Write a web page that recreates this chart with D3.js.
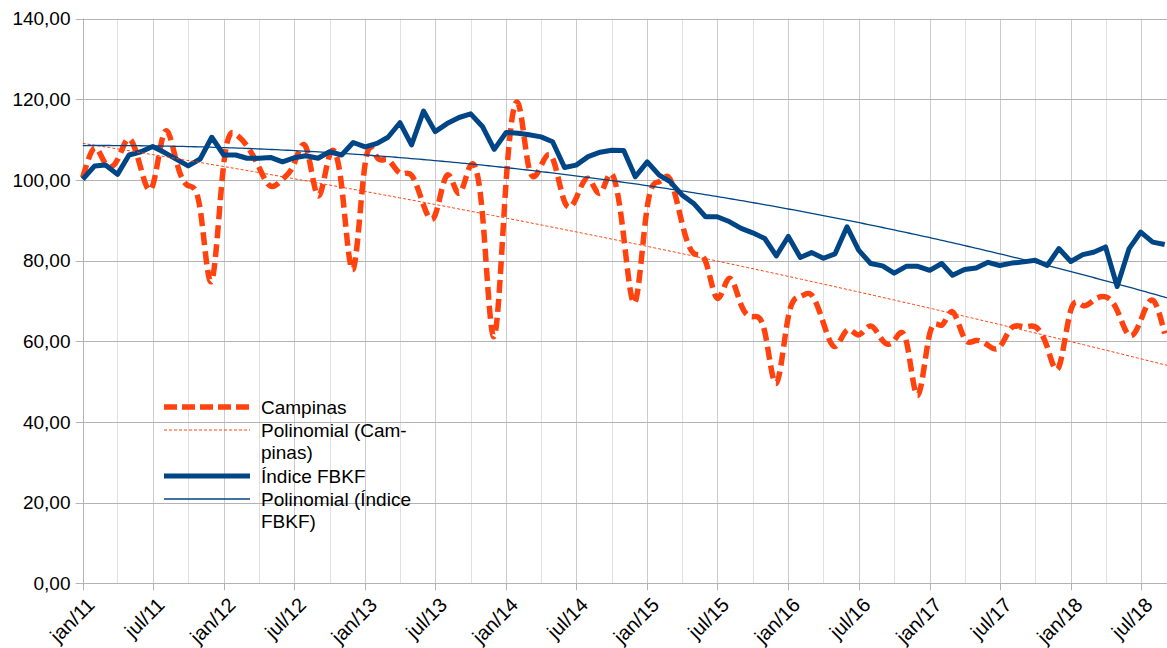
<!DOCTYPE html>
<html>
<head>
<meta charset="utf-8">
<script src="https://cdn.jsdelivr.net/npm/d3@7"></script>
<style>
  body { margin: 0; background: #fff; }
  svg text { font-family: "Liberation Sans", Arial, sans-serif; font-size: 19px; fill: #000; }
  svg text.x-label { font-size: 20px; }
</style>
</head>
<body>
<div id="chart"></div>
<script>
// monthly values, jan/11 .. sep/18
var campinas = [
  100.6, 107.9, 104.0, 105.0, 110.2, 102.7, 98.6, 111.9, 104.4, 98.6, 92.8, 75.0,
  104.0, 111.4, 108.5, 103.2, 98.5, 100.2, 104.0, 108.1, 96.1, 106.2, 98.6, 77.9,
  104.1, 105.6, 105.0, 101.7, 101.2, 93.8, 91.3, 101.2, 96.7, 103.7, 91.0, 61.2,
  100.0, 119.0, 102.9, 103.5, 105.4, 94.6, 95.5, 100.4, 96.7, 101.5, 86.0, 69.8,
  93.4, 99.6, 100.2, 89.3, 81.8, 79.8, 70.7, 75.6, 69.0, 66.1, 62.4, 49.6,
  66.1, 71.1, 71.5, 64.5, 58.7, 62.8, 61.6, 63.8, 60.2, 60.2, 60.2, 46.6,
  61.9, 64.0, 67.3, 60.7, 60.2, 59.0, 58.6, 63.4, 63.6, 63.6, 58.6, 53.6,
  67.7, 68.9, 70.2, 71.0, 67.7, 61.5, 65.2, 70.2, 61.9
];
var fbkf = [
  100.2, 103.5, 103.7, 101.4, 106.2, 107.0, 108.3, 106.8, 105.1, 103.5, 105.2, 110.6,
  106.2, 106.2, 105.4, 105.4, 105.6, 104.5, 105.5, 106.0, 105.4, 107.0, 106.2, 109.3,
  108.2, 109.1, 110.6, 114.2, 108.7, 117.1, 112.0, 114.0, 115.5, 116.4, 113.2, 107.6,
  111.8, 111.6, 111.2, 110.7, 109.5, 103.1, 103.7, 105.8, 106.9, 107.4, 107.3, 100.8,
  104.5, 101.2, 99.6, 96.3, 94.2, 90.9, 90.9, 89.7, 88.0, 86.9, 85.5, 81.2,
  86.0, 80.8, 82.0, 80.6, 81.7, 88.4, 82.6, 79.3, 78.7, 76.9, 78.6, 78.6,
  77.6, 79.3, 76.4, 77.8, 78.2, 79.6, 78.8, 79.4, 79.7, 80.1, 78.8, 83.0,
  79.8, 81.5, 82.1, 83.4, 73.6, 83.0, 87.1, 84.6, 84.0
];
var xTickLabels = ["jan/11", "jul/11", "jan/12", "jul/12", "jan/13", "jul/13", "jan/14", "jul/14",
  "jan/15", "jul/15", "jan/16", "jul/16", "jan/17", "jul/17", "jan/18", "jul/18"];
var yTickValues = [0, 20, 40, 60, 80, 100, 120, 140];
var legendLabels = [
  ["Campinas"],
  ["Polinomial (Cam-", "pinas)"],
  ["Índice FBKF"],
  ["Polinomial (Índice", "FBKF)"]
];

var width = 1167, height = 648;
var orange = "#ff420e", blue = "#004586";

var svg = d3.select("#chart").append("svg")
  .attr("width", width)
  .attr("height", height)
  .style("display", "block");

var startDate = new Date(2011, 0, 1);
var endDate = new Date(2018, 8, 7); // right edge of the plot
var dates = campinas.map(function (d, i) { return d3.timeMonth.offset(startDate, i); });

var x = d3.scaleTime().domain([startDate, endDate]).range([82.7, 1167]);
var y = d3.scaleLinear().domain([0, 140]).range([583.3, 18.7]);

// grid lines
var minorDates = d3.timeMonth.range(startDate, endDate, 3);
svg.append("g").selectAll("line")
  .data(minorDates)
  .enter().append("line")
  .attr("x1", function (d) { return Math.round(x(d)) + 0.5; })
  .attr("x2", function (d) { return Math.round(x(d)) + 0.5; })
  .attr("y1", y(140)).attr("y2", y(0))
  .attr("stroke", function (d) { return d.getMonth() % 6 === 0 ? "#cccccc" : "#e0e0e0"; })
  .attr("stroke-width", 1);

svg.append("g").selectAll("line")
  .data(yTickValues)
  .enter().append("line")
  .attr("x1", x(startDate) - 7).attr("x2", width)
  .attr("y1", function (d) { return Math.round(y(d)) + 0.5; })
  .attr("y2", function (d) { return Math.round(y(d)) + 0.5; })
  .attr("stroke", "#b3b3b3");

// y axis
svg.append("line")
  .attr("x1", Math.round(x(startDate)) + 0.5).attr("x2", Math.round(x(startDate)) + 0.5)
  .attr("y1", y(140)).attr("y2", y(0))
  .attr("stroke", "#b3b3b3");
svg.append("g").selectAll("text")
  .data(yTickValues)
  .enter().append("text")
  .attr("x", 70.5)
  .attr("y", function (d) { return y(d); })
  .attr("dy", "0.35em")
  .attr("text-anchor", "end")
  .text(function (d) { return d3.format(".2f")(d).replace(".", ","); });

// x axis ticks and labels
var tickDates = xTickLabels.map(function (l, i) { return d3.timeMonth.offset(startDate, i * 6); });
svg.append("g").selectAll("line")
  .data(tickDates)
  .enter().append("line")
  .attr("x1", function (d) { return Math.round(x(d)) + 0.5; })
  .attr("x2", function (d) { return Math.round(x(d)) + 0.5; })
  .attr("y1", y(0)).attr("y2", y(0) + 7)
  .attr("stroke", "#b3b3b3");
svg.append("g").selectAll("text")
  .data(tickDates)
  .enter().append("text")
  .attr("class", "x-label")
  .attr("text-anchor", "end")
  .attr("transform", function (d) { return "translate(" + (x(d) + 3) + "," + 596 + ") rotate(-45)"; })
  .attr("dy", "0.72em")
  .text(function (d, i) { return xTickLabels[i]; });

// polynomial (order 2) least squares trend
function polyFit(values) {
  var xs = dates.map(function (d) { return (d - startDate) / 864e5 / 1000; });
  var s = [0, 0, 0, 0, 0], t = [0, 0, 0];
  xs.forEach(function (xv, i) {
    for (var k = 0; k < 5; k++) { s[k] += Math.pow(xv, k); }
    for (var j = 0; j < 3; j++) { t[j] += values[i] * Math.pow(xv, j); }
  });
  var m = [[s[0], s[1], s[2], t[0]], [s[1], s[2], s[3], t[1]], [s[2], s[3], s[4], t[2]]];
  for (var c = 0; c < 3; c++) {
    for (var r = c + 1; r < 3; r++) {
      var f = m[r][c] / m[c][c];
      for (var q = c; q < 4; q++) { m[r][q] -= f * m[c][q]; }
    }
  }
  var coef = [0, 0, 0];
  for (var r2 = 2; r2 >= 0; r2--) {
    var sum = m[r2][3];
    for (var q2 = r2 + 1; q2 < 3; q2++) { sum -= m[r2][q2] * coef[q2]; }
    coef[r2] = sum / m[r2][r2];
  }
  var trendDates = d3.timeDay.range(startDate, endDate, 10).concat([endDate]);
  return trendDates.map(function (d) {
    var xv = (d - startDate) / 864e5 / 1000;
    return { date: d, value: coef[0] + coef[1] * xv + coef[2] * xv * xv };
  });
}

var trendLine = d3.line()
  .x(function (d) { return x(d.date); })
  .y(function (d) { return y(d.value); });

// series
var campinasLine = d3.line()
  .x(function (d, i) { return x(dates[i]); })
  .y(function (d) { return y(d); })
  .curve(d3.curveNatural);
var fbkfLine = d3.line()
  .x(function (d, i) { return x(dates[i]); })
  .y(function (d) { return y(d); });

svg.append("path")
  .attr("d", campinasLine(campinas))
  .attr("fill", "none")
  .attr("stroke", orange)
  .attr("stroke-width", 5.5)
  .attr("stroke-dasharray", "13,6");
svg.append("path")
  .attr("d", fbkfLine(fbkf))
  .attr("fill", "none")
  .attr("stroke", blue)
  .attr("stroke-width", 5)
  .attr("stroke-linejoin", "round");

svg.append("path")
  .attr("d", trendLine(polyFit(campinas)))
  .attr("fill", "none")
  .attr("stroke", orange)
  .attr("stroke-width", 1)
  .attr("stroke-dasharray", "3,2");
svg.append("path")
  .attr("d", trendLine(polyFit(fbkf)))
  .attr("fill", "none")
  .attr("stroke", blue)
  .attr("stroke-width", 1.3);

// legend
var legendStyles = [
  { color: orange, width: 5.5, dash: "13,5" },
  { color: orange, width: 1, dash: "3,2" },
  { color: blue, width: 5, dash: null },
  { color: blue, width: 1.3, dash: null }
];
var legendY = [407, 430, 476, 499];
var legendG = svg.append("g");
legendLabels.forEach(function (lines, i) {
  var st = legendStyles[i];
  legendG.append("line")
    .attr("x1", 164).attr("x2", 250)
    .attr("y1", legendY[i]).attr("y2", legendY[i])
    .attr("stroke", st.color)
    .attr("stroke-width", st.width)
    .attr("stroke-dasharray", st.dash);
  var t = legendG.append("text")
    .attr("x", 261)
    .attr("y", legendY[i] + 7);
  lines.forEach(function (l, li) {
    t.append("tspan").attr("x", 261).attr("dy", li === 0 ? 0 : 22).text(l);
  });
});
</script>
</body>
</html>
